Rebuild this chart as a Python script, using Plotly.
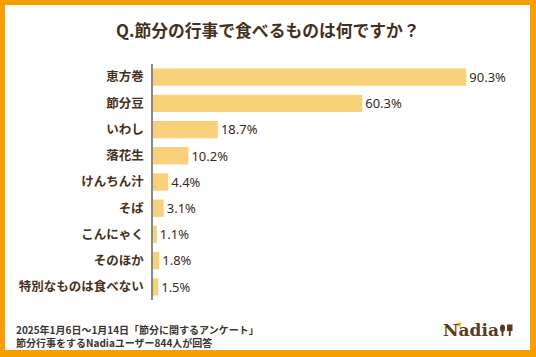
import math
import plotly.graph_objects as go

categories = ["恵方巻", "節分豆", "いわし", "落花生", "けんちん汁", "そば", "こんにゃく", "そのほか", "特別なものは食べない"]
values = [90.3, 60.3, 18.7, 10.2, 4.4, 3.1, 1.1, 1.8, 1.5]
value_labels = [f"{v:.1f}%" for v in values]

title_text = "Q.節分の行事で食べるものは何ですか？"
footer_lines = ["2025年1月6日～1月14日「節分に関するアンケート」", "節分行事をするNadiaユーザー844人が回答"]
logo_text = "Nadia"

W, H = 536, 357
ML, MR, MT, MB = 153, 36, 64, 57
PW = W - ML - MR
PH = H - MT - MB


def px(x):
    return (x - ML) / PW


def py(y):
    return (H - MB - y) / PH


BROWN = "#45301c"
LOGO = "#5b3a1e"
FONT = "Noto Sans CJK JP"

fig = go.Figure()
fig.add_trace(go.Bar(
    x=values,
    y=categories,
    orientation="h",
    marker=dict(color="#f9d17b", line=dict(width=0)),
    width=0.66,
    text=value_labels,
    textposition="outside",
    textfont=dict(family="Noto Sans", size=13.5, color="#3b2a1a"),
    cliponaxis=False,
    hoverinfo="skip",
))

shapes = [
    dict(type="rect", xref="paper", yref="paper", x0=px(5), x1=px(530), y0=py(350), y1=py(5),
         fillcolor="white", line=dict(width=0), layer="below"),
]

# star of the logo
cx, cy, ro, ri = 459, 324.5, 3.2, 1.4
pts = []
for k in range(10):
    r = ro if k % 2 == 0 else ri
    a = -math.pi / 2 + k * math.pi / 5
    pts.append((px(cx + r * math.cos(a)), py(cy + r * math.sin(a))))
star_path = "M " + " L ".join(f"{x:.5f},{y:.5f}" for x, y in pts) + " Z"
shapes.append(dict(type="path", xref="paper", yref="paper", path=star_path,
                   fillcolor="#f5a000", line=dict(width=0)))

# spoon and fork of logo
shapes += [
    dict(type="circle", xref="paper", yref="paper", x0=px(500), x1=px(505), y0=py(332), y1=py(324.5),
         fillcolor=LOGO, line=dict(width=0)),
    dict(type="rect", xref="paper", yref="paper", x0=px(501.6), x1=px(503.4), y0=py(336), y1=py(330),
         fillcolor=LOGO, line=dict(width=0)),
    dict(type="rect", xref="paper", yref="paper", x0=px(507), x1=px(512.5), y0=py(331), y1=py(324.5),
         fillcolor=LOGO, line=dict(width=0)),
    dict(type="rect", xref="paper", yref="paper", x0=px(508.8), x1=px(510.7), y0=py(336), y1=py(330),
         fillcolor=LOGO, line=dict(width=0)),
]

annotations = [
    dict(text=title_text, xref="paper", yref="paper", x=px(268), y=py(30), xanchor="center", yanchor="middle",
         showarrow=False, font=dict(family=FONT, size=16.8, color=BROWN, weight="bold")),
    dict(text="<br>".join(footer_lines), xref="paper", yref="paper", x=px(14), y=py(336), xanchor="left",
         yanchor="middle", align="left", showarrow=False,
         font=dict(family=FONT, size=10, color="#3a3530", weight="bold")),
    dict(text=logo_text, xref="paper", yref="paper", x=px(441), y=py(330), xanchor="left", yanchor="middle",
         showarrow=False, font=dict(family="DejaVu Serif", size=17, color=LOGO, weight="bold")),
]

fig.update_layout(
    width=W, height=H,
    margin=dict(l=ML, r=MR, t=MT, b=MB, pad=0),
    paper_bgcolor="#f5a000",
    plot_bgcolor="rgba(0,0,0,0)",
    showlegend=False,
    bargap=0.34,
    xaxis=dict(range=[0, 100], visible=False, fixedrange=True),
    yaxis=dict(autorange="reversed", showline=True, linecolor="#888888", linewidth=1.5,
               showgrid=False, zeroline=False, ticks="", ticklabelstandoff=5,
               tickfont=dict(family=FONT, size=12.5, color=BROWN, weight="bold"), fixedrange=True),
    shapes=shapes,
    annotations=annotations,
)

fig.write_html("out.html", config={"displayModeBar": False},
               post_script="document.body.style.margin='0';document.body.style.overflow='hidden';")
